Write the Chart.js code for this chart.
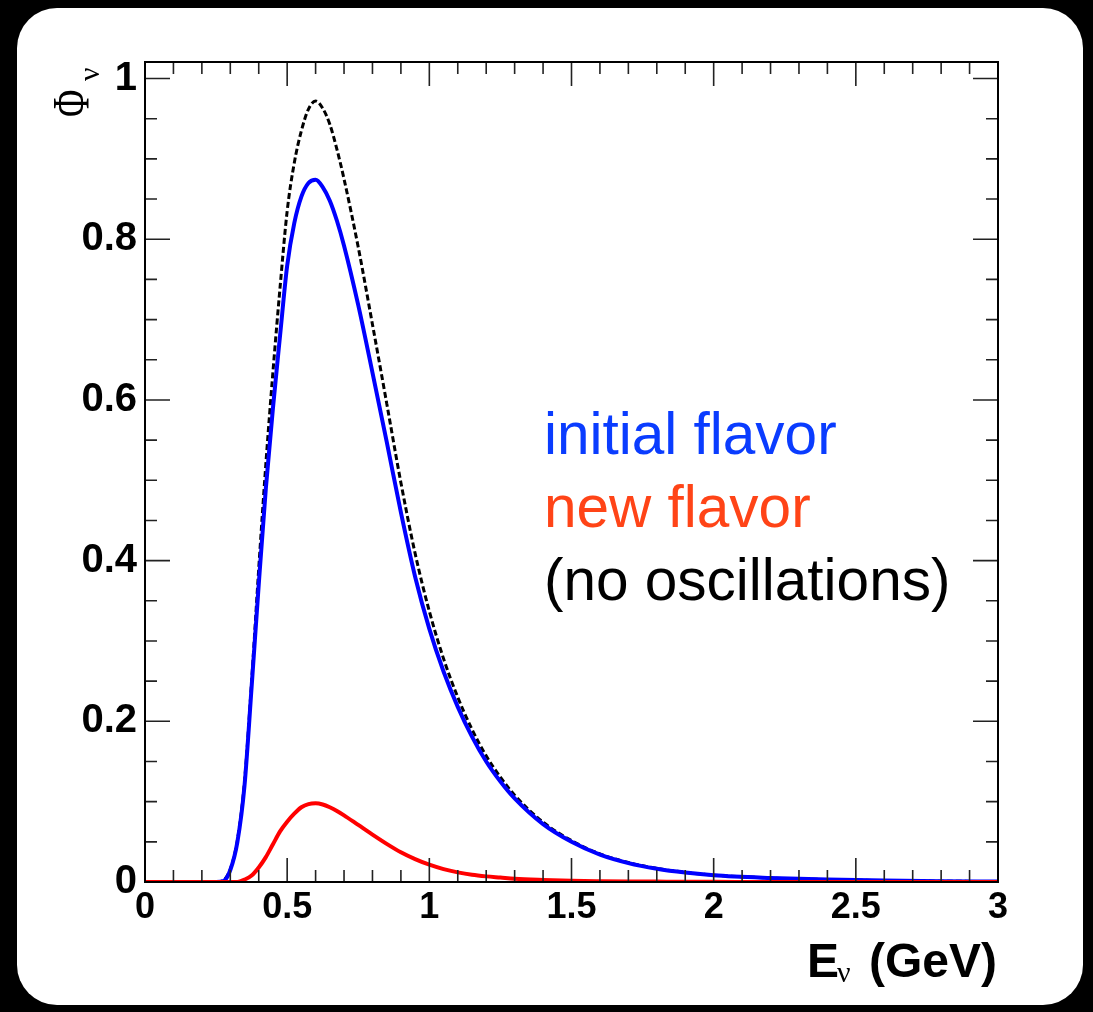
<!DOCTYPE html>
<html>
<head>
<meta charset="utf-8">
<script src="https://cdn.jsdelivr.net/npm/chart.js@4.4.1/dist/chart.umd.min.js"></script>
<style>
  html, body { margin: 0; padding: 0; background: #000; }
  #card { position: absolute; left: 17px; top: 8px; width: 1066px; height: 997px; background: #fff; border-radius: 40px; }
  #plot { position: absolute; left: 0; top: 0; }
</style>
</head>
<body>
<div id="card"></div>
<canvas id="plot" width="1093" height="1012"></canvas>
<script>
// neutrino energy (GeV) and fluxes
const energy = [0, 0.1, 0.2, 0.25, 0.275, 0.3, 0.325, 0.35, 0.375, 0.4, 0.425, 0.45, 0.475, 0.5, 0.525, 0.55, 0.575, 0.6, 0.625, 0.65, 0.675, 0.7, 0.75, 0.8, 0.85, 0.9, 0.95, 1.0, 1.05, 1.1, 1.15, 1.2, 1.25, 1.3, 1.4, 1.5, 1.6, 1.7, 1.8, 1.9, 2.0, 2.2, 2.4, 2.6, 2.8, 3.0];
const initialFlavor = [0, 0, 0, 0, 0.001, 0.015, 0.05, 0.12, 0.243, 0.37, 0.49, 0.59, 0.68, 0.767, 0.82, 0.853, 0.87, 0.874, 0.865, 0.848, 0.823, 0.792, 0.718, 0.634, 0.548, 0.46, 0.38, 0.315, 0.262, 0.218, 0.181, 0.15, 0.125, 0.104, 0.072, 0.05, 0.034, 0.0235, 0.0165, 0.0117, 0.0083, 0.005, 0.003, 0.0018, 0.001, 0.0006];
const newFlavor = [0, 0, 0, 0, 0, 0, 0, 0.003, 0.008, 0.018, 0.031, 0.047, 0.063, 0.075, 0.085, 0.093, 0.097, 0.098, 0.0965, 0.093, 0.0885, 0.083, 0.071, 0.059, 0.0475, 0.037, 0.0285, 0.0215, 0.016, 0.012, 0.009, 0.007, 0.0055, 0.004, 0.0025, 0.0015, 0.001, 0.0007, 0.0005, 0.0003, 0.0002, 0, 0, 0, 0, 0];
const noOscillations = [0, 0, 0, 0, 0.002, 0.016, 0.052, 0.125, 0.25, 0.39, 0.52, 0.635, 0.74, 0.835, 0.895, 0.935, 0.962, 0.972, 0.963, 0.943, 0.912, 0.875, 0.79, 0.694, 0.596, 0.497, 0.409, 0.337, 0.278, 0.23, 0.19, 0.157, 0.1305, 0.108, 0.0745, 0.0515, 0.035, 0.0242, 0.017, 0.012, 0.0085, 0.005, 0.003, 0.0018, 0.001, 0.0006];

const xTickValues = [0, 0.5, 1, 1.5, 2, 2.5, 3];
const xTickLabels = ['0', '0.5', '1', '1.5', '2', '2.5', '3'];
const yTickValues = [0, 0.2, 0.4, 0.6, 0.8, 1];
const yTickLabels = ['0', '0.2', '0.4', '0.6', '0.8', '1'];
const legendLabels = ['initial flavor', 'new flavor', '(no oscillations)'];
const legendColors = ['#0a3cff', '#ff4417', '#000000'];

const pts = ys => energy.map((e, i) => ({ x: e, y: ys[i] }));

// ROOT-style frame: box plus inward ticks on all four sides
const framePlugin = {
  id: 'frame',
  afterDatasetsDraw(chart) {
    const { ctx, chartArea: a, scales: { x, y } } = chart;
    ctx.save();
    ctx.strokeStyle = '#222';
    ctx.lineWidth = 1.6;
    ctx.beginPath();
    for (let i = 0; i <= 30; i++) {
      const px = x.getPixelForValue(i / 10);
      const len = i % 5 === 0 ? 24 : 12;
      ctx.moveTo(px, a.bottom); ctx.lineTo(px, a.bottom - len);
      ctx.moveTo(px, a.top); ctx.lineTo(px, a.top + len);
    }
    for (let i = 0; i <= 20; i++) {
      const py = y.getPixelForValue(i / 20);
      const len = i % 4 === 0 ? 25 : 12;
      ctx.moveTo(a.left, py); ctx.lineTo(a.left + len, py);
      ctx.moveTo(a.right, py); ctx.lineTo(a.right - len, py);
    }
    ctx.stroke();
    ctx.strokeStyle = '#000';
    ctx.lineWidth = 2;
    ctx.strokeRect(a.left, a.top, a.right - a.left, a.bottom - a.top);
    ctx.restore();
  },
  afterDraw(chart) {
    const { ctx, chartArea: a } = chart;
    ctx.save();
    ctx.fillStyle = '#000';
    ctx.textBaseline = 'alphabetic';
    // x title: E_nu (GeV)
    ctx.font = 'bold 48px "Liberation Sans"';
    ctx.textAlign = 'right';
    ctx.fillText('(GeV)', a.right - 1, 977);
    ctx.textAlign = 'left';
    ctx.fillText('E', 807, 977);
    ctx.font = '30px "Liberation Serif"';
    ctx.fillText('ν', 837, 982);
    // y title: Phi_nu, rotated
    ctx.translate(89, 117);
    ctx.rotate(-Math.PI / 2);
    ctx.save();
    ctx.scale(0.72, 1);
    ctx.font = '52px "Liberation Serif"';
    ctx.fillText('Φ', 0, 0);
    ctx.restore();
    ctx.font = '30px "Liberation Serif"';
    ctx.fillText('ν', 36, 10);
    ctx.restore();
    // legend text
    ctx.save();
    ctx.font = '58.5px "Liberation Sans"';
    ctx.textAlign = 'left';
    legendLabels.forEach((t, i) => {
      ctx.fillStyle = legendColors[i];
      ctx.fillText(t, 544, 454 + i * 73);
    });
    ctx.restore();
  }
};

new Chart(document.getElementById('plot'), {
  type: 'line',
  data: {
    datasets: [
      { label: 'new flavor', data: pts(newFlavor), borderColor: '#ff0000', borderWidth: 4, order: 0 },
      { label: 'initial flavor', data: pts(initialFlavor), borderColor: '#0000ff', borderWidth: 4, order: 1 },
      { label: 'no oscillations', data: pts(noOscillations), borderColor: '#000000', borderWidth: 3, borderDash: [6, 3], order: 2 }
    ]
  },
  options: {
    responsive: false,
    animation: false,
    layout: { padding: { top: 62, right: 95, left: 0, bottom: 0 } },
    elements: { point: { radius: 0 }, line: { cubicInterpolationMode: 'monotone', fill: false } },
    plugins: { legend: { display: false }, tooltip: { enabled: false } },
    scales: {
      x: {
        type: 'linear', min: 0, max: 3,
        afterFit(s) { s.height = 130; },
        afterBuildTicks(s) { s.ticks = xTickValues.map(v => ({ value: v })); },
        ticks: { font: { family: 'Liberation Sans', size: 36, weight: 'bold' }, color: '#000', padding: 4, maxRotation: 0, autoSkip: false, callback: (v, i) => xTickLabels[i] },
        grid: { display: false, drawTicks: false },
        border: { display: false }
      },
      y: {
        type: 'linear', min: 0, max: 1.0206,
        afterFit(s) { s.width = 145; },
        afterBuildTicks(s) { s.ticks = yTickValues.map(v => ({ value: v })); },
        ticks: { font: { family: 'Liberation Sans', size: 40, weight: 'bold' }, color: '#000', padding: 8, autoSkip: false, callback: (v, i) => yTickLabels[i] },
        grid: { display: false, drawTicks: false },
        border: { display: false }
      }
    }
  },
  plugins: [framePlugin]
});
</script>
</body>
</html>
